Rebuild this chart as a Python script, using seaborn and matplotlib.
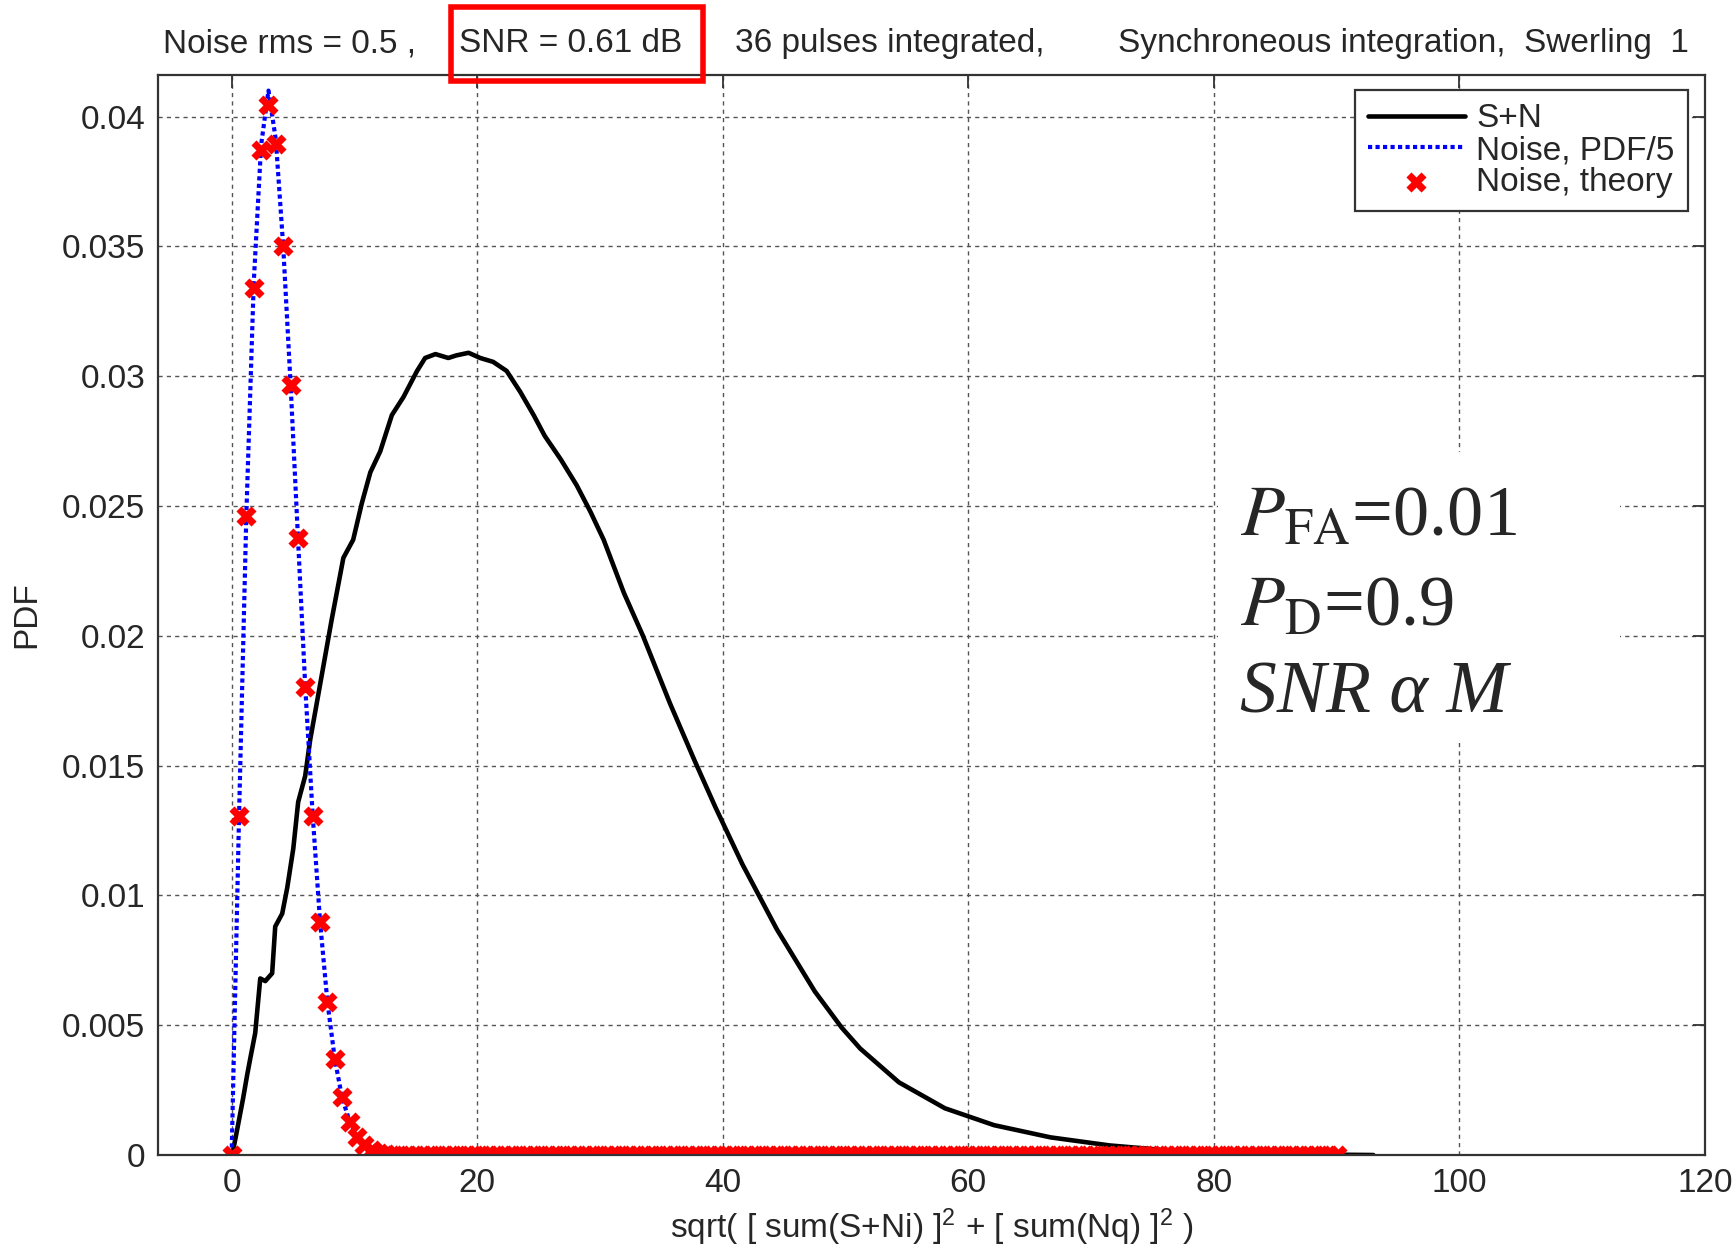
import numpy as np
import matplotlib
matplotlib.use("Agg")
import matplotlib.pyplot as plt
from matplotlib.patches import Rectangle
import seaborn as sns

# --- data ------------------------------------------------------------------
# S+N (simulated, Swerling 1)
sn_x = [0, 0.13, 0.54, 0.94, 1.27, 1.51, 1.92, 2.33, 2.74, 3.3, 3.55, 4.12,
        4.53, 5.02, 5.42, 5.99, 6.4, 6.97, 8.14, 9.1, 9.9, 10.6, 11.3, 12.1,
        13.05, 14.0, 15.1, 15.76, 16.6, 17.65, 18.3, 19.3, 20.25, 21.3, 22.4,
        23.5, 24.6, 25.5, 26.8, 28.1, 29.2, 30.3, 31.95, 33.5, 35.7, 37.7,
        39.4, 41.6, 44.4, 47.5, 49.7, 51.2, 54.35, 58.1, 62.1, 66.7, 71.5,
        76.7, 80.0, 86.0, 93.0]
sn_y = [0, 0.0002, 0.0012, 0.0022, 0.0031, 0.0037, 0.0047, 0.0068, 0.0067,
        0.0070, 0.0088, 0.0093, 0.0103, 0.0118, 0.0136, 0.0146, 0.0160, 0.0175,
        0.0206, 0.0230, 0.0237, 0.0251, 0.0263, 0.0271, 0.0285, 0.0292, 0.0302,
        0.0307, 0.03085, 0.0307, 0.0308, 0.0309, 0.0307, 0.03055, 0.0302,
        0.0294, 0.0285, 0.0277, 0.0268, 0.0258, 0.0248, 0.0237, 0.02165,
        0.0200, 0.0174, 0.0152, 0.0134, 0.0112, 0.0087, 0.0063, 0.0049,
        0.0041, 0.0028, 0.0018, 0.00115, 0.00068, 0.00037, 0.00016, 0.00009,
        0.00003, 0]

# noise, bins every 0.6
noise_x = [0, 0.6, 1.2, 1.8, 2.4, 3.0, 3.6, 4.2, 4.8, 5.4, 6.0, 6.6, 7.2, 7.8,
           8.4, 9.0, 9.6, 10.2, 10.8, 11.4, 12.0, 12.6]
noise_sim = [0, 0.0130, 0.0247, 0.0336, 0.0389, 0.0410, 0.0391, 0.0350, 0.0297,
             0.0238, 0.0180, 0.0131, 0.0090, 0.0059, 0.0037, 0.0022, 0.0013,
             0.0007, 0.0004, 0.0002, 0.0001, 0.00004]
noise_theory = [0, 0.01307, 0.02462, 0.03341, 0.03873, 0.04044, 0.03894,
                0.03503, 0.02965, 0.02375, 0.01804, 0.01304, 0.00898, 0.0059,
                0.0037, 0.00222, 0.00127, 0.0007, 0.00037, 0.000185, 0.00009,
                0.00004]
# flat tail of the noise curves (reads 0 up to x = 90)
tail_x = np.round(np.arange(13.2, 90.01, 0.6), 1)
tail_y = np.zeros(len(tail_x))

x_ticks = [0, 20, 40, 60, 80, 100, 120]
y_ticks = [0, 0.005, 0.01, 0.015, 0.02, 0.025, 0.03, 0.035, 0.04]
y_tick_labels = ["0", "0.005", "0.01", "0.015", "0.02", "0.025", "0.03", "0.035", "0.04"]

# --- style ------------------------------------------------------------------
sns.set_theme(style="white")
plt.rcParams["font.family"] = ["Liberation Sans", "DejaVu Sans"]
plt.rcParams["mathtext.fontset"] = "custom"
plt.rcParams["mathtext.rm"] = "Liberation Sans"
plt.rcParams["mathtext.it"] = "Liberation Sans:italic"
FS = 24
DOTS = (0, (1, 0.8))

fig = plt.figure(figsize=(17.36, 12.48), dpi=100)
ax = fig.add_axes([0.0910, 0.0745, 0.8911, 0.8654])

nx = np.concatenate([noise_x, tail_x])
ns = np.concatenate([noise_sim, tail_y])
nt = np.concatenate([noise_theory, tail_y])

sns.lineplot(x=sn_x, y=sn_y, ax=ax, color="black", lw=3.3, sort=False,
             estimator=None, label="S+N", zorder=2)
sns.lineplot(x=nx, y=ns, ax=ax, color="blue", lw=3.0, sort=False,
             estimator=None, label="Noise, PDF/5", zorder=2.1)
ax.lines[-1].set_linestyle(DOTS)
sns.scatterplot(x=nx, y=nt, ax=ax, color="red", marker="X", s=210,
                linewidth=0, label="Noise, theory", zorder=2.2)

ax.set_xlim(-6, 120)
ax.set_ylim(0, 0.0416)
ax.set_xticks(x_ticks)
ax.set_yticks(y_ticks)
ax.set_yticklabels(y_tick_labels)
ax.tick_params(axis="both", which="major", direction="in", length=9, width=1.3,
               labelsize=FS, top=True, right=True, pad=9, color="#333333")
ax.grid(True, color="#555555", lw=1.0, linestyle=(0, (3, 3)))
for sp in ax.spines.values():
    sp.set_color("#333333")
    sp.set_linewidth(1.6)

ax.set_xlabel("sqrt( [ sum(S+Ni) ]$^2$ + [ sum(Nq) ]$^2$ )", fontsize=FS)
ax.set_ylabel("PDF", fontsize=FS)
ax.xaxis.set_label_coords(0.5, -0.048)
ax.yaxis.set_label_coords(-0.075, 0.5)

leg = ax.legend(loc="upper right", bbox_to_anchor=(0.989, 0.986),
                borderaxespad=0, fontsize=FS, frameon=True, fancybox=False,
                handlelength=2.9, handletextpad=0.35, labelspacing=0.02,
                borderpad=0.4)
leg.get_frame().set_edgecolor("#333333")
leg.get_frame().set_linewidth(1.6)
leg.get_frame().set_alpha(1)
leg.legend_handles[1].set_linestyle(DOTS)

# white panel behind the annotation (grid hidden there)
ax.add_patch(Rectangle((0.7016, 0.4054), 0.2316, 0.2324, transform=fig.transFigure,
                       facecolor="white", edgecolor="none", zorder=1.8))

fig.text(0.714, 0.571, r"$P_{\mathrm{FA}}$=0.01", fontsize=52,
         family="Liberation Serif", math_fontfamily="stix")
fig.text(0.714, 0.499, r"$P_{\mathrm{D}}$=0.9", fontsize=52,
         family="Liberation Serif", math_fontfamily="stix")
fig.text(0.714, 0.429, "SNR α M", fontsize=53, family="Liberation Serif",
         style="italic")

# header line
hy = 0.958
fig.text(0.0939, hy, "Noise rms = 0.5 ,", fontsize=FS)
fig.text(0.2644, hy, "SNR = 0.61 dB", fontsize=FS)
fig.text(0.4234, hy, "36 pulses integrated,", fontsize=FS)
fig.text(0.644, hy, "Synchroneous integration,  Swerling  1", fontsize=FS)
fig.patches.append(Rectangle((0.2598, 0.935), 0.1452, 0.0594, transform=fig.transFigure,
                             fill=False, edgecolor="red", linewidth=4.0,
                             figure=fig, zorder=5))

fig.savefig("out.png", dpi=100)
